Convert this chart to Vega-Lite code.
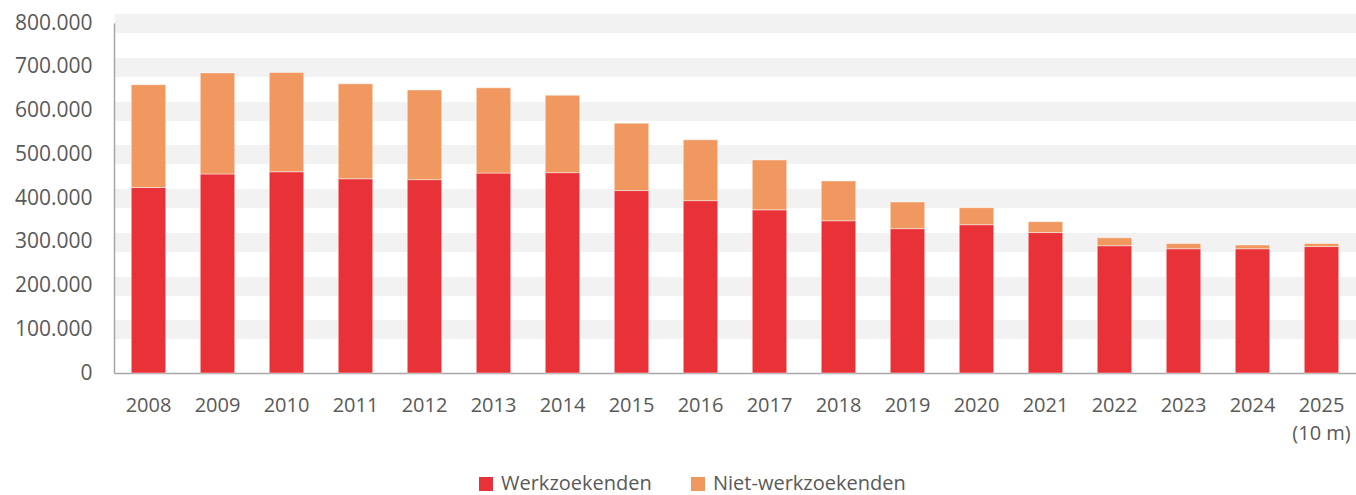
{
  "$schema": "https://vega.github.io/schema/vega-lite/v6.json",
  "autosize": "none",
  "width": 1242,
  "height": 350,
  "padding": {"left": 114, "top": 23, "right": 0, "bottom": 122},
  "background": "white",
  "config": {
    "view": {"stroke": null},
    "locale": {"number": {"decimal": ",", "thousands": ".", "grouping": [3], "currency": ["€", ""]}},
    "font": "Open Sans"
  },
  "data": {
    "values": [
      {"jaar": "2008", "type": "Werkzoekenden", "aantal": 424000},
      {"jaar": "2008", "type": "Niet-werkzoekenden", "aantal": 235000},
      {"jaar": "2009", "type": "Werkzoekenden", "aantal": 455000},
      {"jaar": "2009", "type": "Niet-werkzoekenden", "aantal": 231000},
      {"jaar": "2010", "type": "Werkzoekenden", "aantal": 460000},
      {"jaar": "2010", "type": "Niet-werkzoekenden", "aantal": 227000},
      {"jaar": "2011", "type": "Werkzoekenden", "aantal": 444000},
      {"jaar": "2011", "type": "Niet-werkzoekenden", "aantal": 217000},
      {"jaar": "2012", "type": "Werkzoekenden", "aantal": 442000},
      {"jaar": "2012", "type": "Niet-werkzoekenden", "aantal": 205000},
      {"jaar": "2013", "type": "Werkzoekenden", "aantal": 457000},
      {"jaar": "2013", "type": "Niet-werkzoekenden", "aantal": 195000},
      {"jaar": "2014", "type": "Werkzoekenden", "aantal": 458000},
      {"jaar": "2014", "type": "Niet-werkzoekenden", "aantal": 177000},
      {"jaar": "2015", "type": "Werkzoekenden", "aantal": 417000},
      {"jaar": "2015", "type": "Niet-werkzoekenden", "aantal": 154000},
      {"jaar": "2016", "type": "Werkzoekenden", "aantal": 394000},
      {"jaar": "2016", "type": "Niet-werkzoekenden", "aantal": 139000},
      {"jaar": "2017", "type": "Werkzoekenden", "aantal": 373000},
      {"jaar": "2017", "type": "Niet-werkzoekenden", "aantal": 114000},
      {"jaar": "2018", "type": "Werkzoekenden", "aantal": 348000},
      {"jaar": "2018", "type": "Niet-werkzoekenden", "aantal": 91000},
      {"jaar": "2019", "type": "Werkzoekenden", "aantal": 330000},
      {"jaar": "2019", "type": "Niet-werkzoekenden", "aantal": 61000},
      {"jaar": "2020", "type": "Werkzoekenden", "aantal": 339000},
      {"jaar": "2020", "type": "Niet-werkzoekenden", "aantal": 39000},
      {"jaar": "2021", "type": "Werkzoekenden", "aantal": 321000},
      {"jaar": "2021", "type": "Niet-werkzoekenden", "aantal": 25000},
      {"jaar": "2022", "type": "Werkzoekenden", "aantal": 291000},
      {"jaar": "2022", "type": "Niet-werkzoekenden", "aantal": 18000},
      {"jaar": "2023", "type": "Werkzoekenden", "aantal": 284000},
      {"jaar": "2023", "type": "Niet-werkzoekenden", "aantal": 12000},
      {"jaar": "2024", "type": "Werkzoekenden", "aantal": 284000},
      {"jaar": "2024", "type": "Niet-werkzoekenden", "aantal": 8500},
      {"jaar": "2025", "type": "Werkzoekenden", "aantal": 289000},
      {"jaar": "2025", "type": "Niet-werkzoekenden", "aantal": 7000}
    ]
  },
  "mark": {"type": "bar", "stroke": "#ffffff", "strokeOpacity": 0.45, "strokeWidth": 1},
  "encoding": {
    "x": {
      "field": "jaar",
      "type": "ordinal",
      "scale": {"paddingInner": 0.5, "paddingOuter": 0.25},
      "axis": {
        "title": null,
        "labelAngle": 0,
        "ticks": false,
        "labelPadding": 22,
        "labelFontSize": 20,
        "labelColor": "#595959",
        "labelLineHeight": 28,
        "labelExpr": "datum.value == '2025' ? ['2025', '(10 m)'] : datum.value",
        "domainColor": "#a6a6a6",
        "domainWidth": 1.5,
        "grid": false
      }
    },
    "y": {
      "field": "aantal",
      "type": "quantitative",
      "stack": "zero",
      "scale": {"domain": [0, 800000], "nice": false},
      "axis": {
        "title": null,
        "values": [0, 100000, 200000, 300000, 400000, 500000, 600000, 700000, 800000],
        "format": ",d",
        "ticks": false,
        "labelPadding": 22,
        "labelFontSize": 21,
        "labelColor": "#595959",
        "domainColor": "#a6a6a6",
        "domainWidth": 1.5,
        "grid": true,
        "gridWidth": 19,
        "gridColor": {"condition": {"test": "datum.value === 0", "value": "#ffffff"}, "value": "#f2f2f2"}
      }
    },
    "color": {
      "field": "type",
      "type": "nominal",
      "scale": {"domain": ["Werkzoekenden", "Niet-werkzoekenden"], "range": ["#e83238", "#f0985f"]},
      "legend": {
        "title": null,
        "orient": "none",
        "legendX": 362,
        "legendY": 451,
        "direction": "horizontal",
        "symbolType": "square",
        "symbolSize": 196,
        "symbolStrokeWidth": 0,
        "labelFontSize": 20,
        "labelColor": "#595959",
        "labelOffset": 5,
        "labelLimit": 400,
        "columnPadding": 36
      }
    },
    "order": {"field": "type", "sort": "descending"}
  }
}
